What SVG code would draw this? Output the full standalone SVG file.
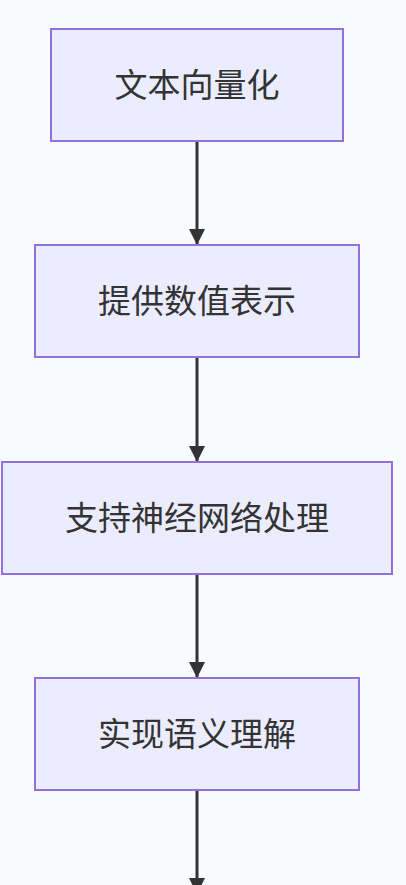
<svg xmlns="http://www.w3.org/2000/svg" width="406" height="885" viewBox="0 0 406 885">
<defs>
<style>
.box{fill:#ECECFF;stroke:#9370DB;stroke-width:2}
.lbl{font-family:"Noto Sans CJK SC","Liberation Sans",sans-serif;font-size:33px;fill:#333333;text-anchor:middle;dominant-baseline:central}
.edge{stroke:#333333;stroke-width:3;fill:none}
</style>
<marker id="arr" viewBox="0 0 10 10" refX="10" refY="5" markerUnits="userSpaceOnUse" markerWidth="16" markerHeight="16" orient="auto">
<path d="M0,0 L10,5 L0,10 z" fill="#333333"/>
</marker>
</defs>
<rect width="406" height="885" fill="#f8fbfe"/>
<g id="connectors">
<line class="edge" x1="197" y1="141" x2="197" y2="245" marker-end="url(#arr)"/>
<line class="edge" x1="197" y1="357" x2="197" y2="462" marker-end="url(#arr)"/>
<line class="edge" x1="197" y1="574" x2="197" y2="678" marker-end="url(#arr)"/>
<line class="edge" x1="197" y1="790" x2="197" y2="894" marker-end="url(#arr)"/>
</g>
<g id="node1">
<rect class="box" x="51" y="29" width="292" height="112"/>
<text class="lbl" x="197" y="83">文本向量化</text>
</g>
<g id="node2">
<rect class="box" x="35" y="245" width="324" height="112"/>
<text class="lbl" x="197" y="299">提供数值表示</text>
</g>
<g id="node3">
<rect class="box" x="2" y="462" width="390" height="112"/>
<text class="lbl" x="197" y="516">支持神经网络处理</text>
</g>
<g id="node4">
<rect class="box" x="35" y="678" width="324" height="112"/>
<text class="lbl" x="197" y="732">实现语义理解</text>
</g>
</svg>
